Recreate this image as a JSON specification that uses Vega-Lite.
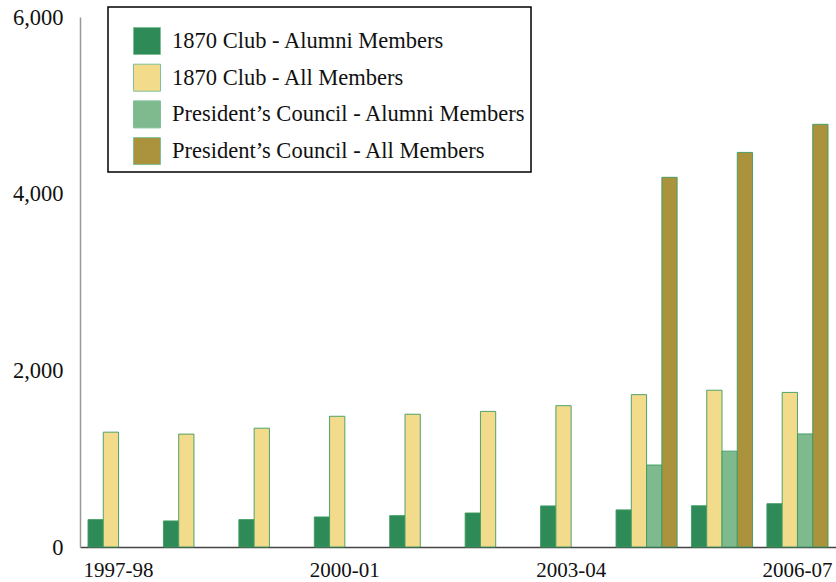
{
  "$schema": "https://vega.github.io/schema/vega-lite/v6.json",
  "width": 756,
  "height": 530,
  "autosize": {"type": "none"},
  "padding": {"left": 80, "top": 17, "right": 0, "bottom": 35},
  "background": "white",
  "config": {
    "view": {"stroke": null},
    "font": "Liberation Serif"
  },
  "data": {
    "values": [
      {"year": "1997-98", "series": "1870 Club - Alumni Members", "value": 310},
      {"year": "1997-98", "series": "1870 Club - All Members", "value": 1300},
      {"year": "1998-99", "series": "1870 Club - Alumni Members", "value": 295},
      {"year": "1998-99", "series": "1870 Club - All Members", "value": 1278},
      {"year": "1999-00", "series": "1870 Club - Alumni Members", "value": 310},
      {"year": "1999-00", "series": "1870 Club - All Members", "value": 1345},
      {"year": "2000-01", "series": "1870 Club - Alumni Members", "value": 340},
      {"year": "2000-01", "series": "1870 Club - All Members", "value": 1480},
      {"year": "2001-02", "series": "1870 Club - Alumni Members", "value": 355},
      {"year": "2001-02", "series": "1870 Club - All Members", "value": 1503},
      {"year": "2002-03", "series": "1870 Club - Alumni Members", "value": 385},
      {"year": "2002-03", "series": "1870 Club - All Members", "value": 1535},
      {"year": "2003-04", "series": "1870 Club - Alumni Members", "value": 465},
      {"year": "2003-04", "series": "1870 Club - All Members", "value": 1600},
      {"year": "2004-05", "series": "1870 Club - Alumni Members", "value": 420},
      {"year": "2004-05", "series": "1870 Club - All Members", "value": 1725},
      {"year": "2004-05", "series": "President’s Council - Alumni Members", "value": 928},
      {"year": "2004-05", "series": "President’s Council - All Members", "value": 4185},
      {"year": "2005-06", "series": "1870 Club - Alumni Members", "value": 467},
      {"year": "2005-06", "series": "1870 Club - All Members", "value": 1775},
      {"year": "2005-06", "series": "President’s Council - Alumni Members", "value": 1085},
      {"year": "2005-06", "series": "President’s Council - All Members", "value": 4467},
      {"year": "2006-07", "series": "1870 Club - Alumni Members", "value": 490},
      {"year": "2006-07", "series": "1870 Club - All Members", "value": 1750},
      {"year": "2006-07", "series": "President’s Council - Alumni Members", "value": 1280},
      {"year": "2006-07", "series": "President’s Council - All Members", "value": 4785}
    ]
  },
  "mark": {"type": "bar", "stroke": "#3d9a60", "strokeWidth": 1, "strokeOpacity": 0.9},
  "encoding": {
    "x": {
      "field": "year",
      "type": "nominal",
      "sort": null,
      "scale": {
        "domain": ["1997-98", "1998-99", "1999-00", "2000-01", "2001-02", "2002-03", "2003-04", "2004-05", "2005-06", "2006-07"],
        "paddingInner": 0.19,
        "paddingOuter": 0.106
      },
      "axis": {
        "title": null,
        "values": ["1997-98", "2000-01", "2003-04", "2006-07"],
        "labelAngle": 0,
        "labelFont": "Liberation Serif",
        "labelFontSize": 21,
        "labelColor": "#111",
        "labelPadding": 12,
        "ticks": false,
        "domainColor": "#444",
        "domainWidth": 1.5,
        "grid": false
      }
    },
    "xOffset": {
      "field": "series",
      "type": "nominal",
      "scale": {
        "domain": ["1870 Club - Alumni Members", "1870 Club - All Members", "President’s Council - Alumni Members", "President’s Council - All Members"],
        "paddingInner": 0,
        "paddingOuter": 0
      }
    },
    "y": {
      "field": "value",
      "type": "quantitative",
      "scale": {"domain": [0, 6000], "nice": false},
      "axis": {
        "title": null,
        "values": [0, 2000, 4000, 6000],
        "format": ",d",
        "labelFont": "Liberation Serif",
        "labelFontSize": 22.5,
        "labelColor": "#111",
        "labelPadding": 17,
        "ticks": false,
        "grid": false,
        "domainColor": "#999",
        "domainWidth": 1.5
      }
    },
    "color": {
      "field": "series",
      "type": "nominal",
      "scale": {
        "domain": ["1870 Club - Alumni Members", "1870 Club - All Members", "President’s Council - Alumni Members", "President’s Council - All Members"],
        "range": ["#2e8b57", "#f2dc8c", "#7fba8f", "#ab923c"]
      },
      "legend": {
        "title": " ",
        "titleFontSize": 1,
        "titlePadding": 14,
        "orient": "none",
        "legendX": 28,
        "legendY": -10,
        "strokeColor": "#000",
        "fillColor": "white",
        "padding": 5,
        "symbolType": "square",
        "symbolSize": 729,
        "symbolOffset": 20,
        "symbolStrokeColor": "#7fc197",
        "symbolStrokeWidth": 1,
        "symbolOpacity": 1,
        "labelFont": "Liberation Serif",
        "labelFontSize": 22.5,
        "labelColor": "#111",
        "labelOffset": 11,
        "labelLimit": 600,
        "labelExpr": "datum.label + '\u00a0\u00a0\u00a0\u00a0'",
        "rowPadding": 4.7,
        "encode": {"legend": {"update": {"strokeWidth": {"value": 1.5}}}}
      }
    }
  }
}
